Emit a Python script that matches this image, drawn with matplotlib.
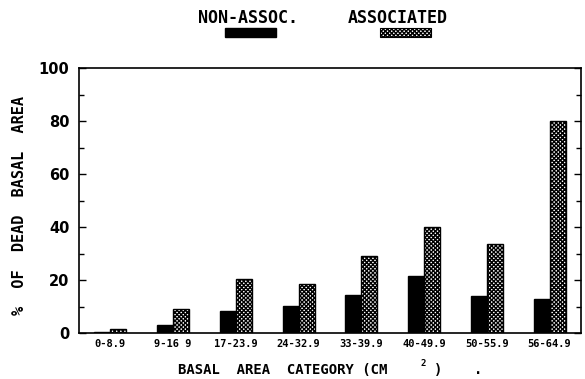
import numpy as np
import matplotlib
matplotlib.use('agg')
import matplotlib.pyplot as plt
from matplotlib.patches import Rectangle
from matplotlib.ticker import MultipleLocator

categories = ["0-8.9", "9-16 9", "17-23.9", "24-32.9", "33-39.9", "40-49.9", "50-55.9", "56-64.9"]
non_assoc = [0.4, 3.0, 8.2, 10.3, 14.4, 21.4, 14.1, 12.9]
associated = [1.6, 9.1, 20.4, 18.5, 29.2, 40.2, 33.5, 80.0]
y_ticks = [0, 20, 40, 60, 80, 100]

plt.rcParams['hatch.linewidth'] = 1.0
mono = 'DejaVu Sans Mono'
hatch = 'xxxxxxxx'

fig = plt.figure(figsize=(5.85, 3.79), dpi=100)
ax = fig.add_axes([0.1350, 0.1214, 0.8581, 0.6979])

x = np.arange(len(categories))
w = 0.255
ax.bar(x - w / 2, non_assoc, width=w, color='black', edgecolor='black', linewidth=1)
ax.bar(x + w / 2, associated, width=w, color='white', edgecolor='black', linewidth=1, hatch=hatch)

ax.set_xlim(-0.5, len(categories) - 0.5)
ax.set_ylim(0, 100)
ax.set_xticks(x)
ax.set_xticklabels(categories, family=mono, fontweight='bold', fontsize=7.5)
ax.tick_params(axis='x', length=0, pad=4)
ax.set_yticks(y_ticks)
ax.set_yticklabels([str(v) for v in y_ticks], fontweight='bold', fontsize=10.5)
ax.yaxis.set_minor_locator(MultipleLocator(10))
ax.tick_params(axis='y', which='both', direction='in', left=True, right=True, pad=7)
ax.tick_params(axis='y', which='major', length=5, width=1)
ax.tick_params(axis='y', which='minor', length=3.5, width=1)
for s in ax.spines.values():
    s.set_linewidth(1.2)

# axis titles
fig.text(0.034, 0.459, "%  OF  DEAD  BASAL  AREA", rotation=90, ha='center', va='center',
         family=mono, fontweight='bold', fontsize=11)
# x title in pieces so the raised 2 sits on its own
fig.text(0.3043, 0.0132, "BASAL  AREA  CATEGORY (CM", ha='left', va='baseline',
         family=mono, fontweight='bold', fontsize=10)
fig.text(0.723, 0.0343, "2", ha='center', va='baseline', family=mono, fontweight='bold', fontsize=6.5)
fig.text(0.7487, 0.0132, ")", ha='center', va='baseline', family=mono, fontweight='bold', fontsize=10)
fig.text(0.817, 0.0132, ".", ha='center', va='baseline', family=mono, fontweight='bold', fontsize=10)

# legend on top
fig.text(0.424, 0.9393, "NON-ASSOC.", ha='center', va='baseline', family=mono,
         fontweight='bold', fontsize=12)
fig.text(0.680, 0.9393, "ASSOCIATED", ha='center', va='baseline', family=mono,
         fontweight='bold', fontsize=12)
fig.add_artist(Rectangle((0.3846, 0.9024), 0.0872, 0.0237, transform=fig.transFigure,
                         facecolor='black', edgecolor='black'))
fig.add_artist(Rectangle((0.6496, 0.9024), 0.0872, 0.0237, transform=fig.transFigure,
                         facecolor='white', edgecolor='black', hatch=hatch, linewidth=0.8))

fig.savefig('out.png', dpi=100)
